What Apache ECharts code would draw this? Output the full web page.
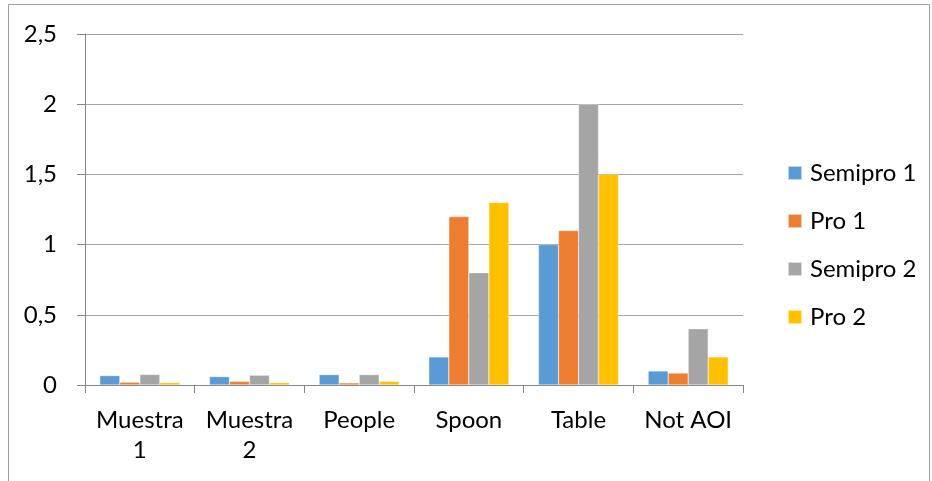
<!DOCTYPE html>
<html>
<head>
<meta charset="utf-8">
<script src="https://cdn.jsdelivr.net/npm/echarts@6/dist/echarts.min.js"></script>
<style>
  html, body { margin: 0; padding: 0; background: #fff; }
  #chart { width: 932px; height: 481px; }
</style>
</head>
<body>
<div id="chart"></div>
<script>
// Categories along the x axis
const categories = ['Muestra\n1', 'Muestra\n2', 'People', 'Spoon', 'Table', 'Not AOI'];

// Values per group
const semipro1 = [0.067, 0.06, 0.074, 0.2, 1.0, 0.1];
const pro1     = [0.02, 0.026, 0.015, 1.2, 1.1, 0.085];
const semipro2 = [0.075, 0.07, 0.074, 0.8, 2.0, 0.4];
const pro2     = [0.017, 0.017, 0.026, 1.3, 1.5, 0.2];

const seriesNames = ['Semipro 1', 'Pro 1', 'Semipro 2', 'Pro 2'];
const seriesColors = ['#5b9bd5', '#ed7d31', '#a5a5a5', '#ffc000'];
const seriesData = [semipro1, pro1, semipro2, pro2];

const fontFamily = 'Lato, "Open Sans", sans-serif';
const fontSize = 24;

const chart = echarts.init(document.getElementById('chart'));
chart.setOption({
  backgroundColor: '#fff',
  animation: false,
  textStyle: { fontFamily: fontFamily },
  graphic: [{
    type: 'rect',
    shape: { x: 8.5, y: 4.5, width: 921, height: 480 },
    style: { fill: 'none', stroke: '#a0a0a0', lineWidth: 1 },
    silent: true
  }],
  grid: { left: 85, right: 189, top: 34, bottom: 96 },
  legend: {
    orient: 'vertical',
    left: 787,
    top: 161,
    padding: 0,
    itemWidth: 14,
    itemHeight: 14,
    itemGap: 24,
    icon: 'rect',
    textStyle: { fontSize: fontSize, color: '#000', fontFamily: fontFamily, padding: [0, 0, 0, 3] },
    data: seriesNames
  },
  xAxis: {
    type: 'category',
    data: categories,
    axisLine: { lineStyle: { color: '#868686', width: 1 } },
    axisTick: { show: true, length: 8, lineStyle: { color: '#868686' } },
    axisLabel: {
      color: '#000', fontSize: fontSize, lineHeight: 30, margin: 20,
      fontFamily: fontFamily, interval: 0
    }
  },
  yAxis: {
    type: 'value',
    min: 0,
    max: 2.5,
    interval: 0.5,
    axisLine: { show: true, lineStyle: { color: '#868686', width: 1 } },
    axisTick: { show: true, length: 8, lineStyle: { color: '#868686' } },
    splitLine: { lineStyle: { color: '#a6a6a6', width: 1 } },
    axisLabel: {
      color: '#000', fontSize: fontSize, margin: 28, fontFamily: fontFamily,
      formatter: v => String(v).replace('.', ',')
    }
  },
  series: seriesNames.map((name, i) => ({
    name: name,
    type: 'bar',
    data: seriesData[i],
    barGap: '0%',
    barCategoryGap: '27%',
    itemStyle: { color: seriesColors[i], borderColor: 'rgba(255,255,255,0.6)', borderWidth: 0.5 }
  }))
});
</script>
</body>
</html>
